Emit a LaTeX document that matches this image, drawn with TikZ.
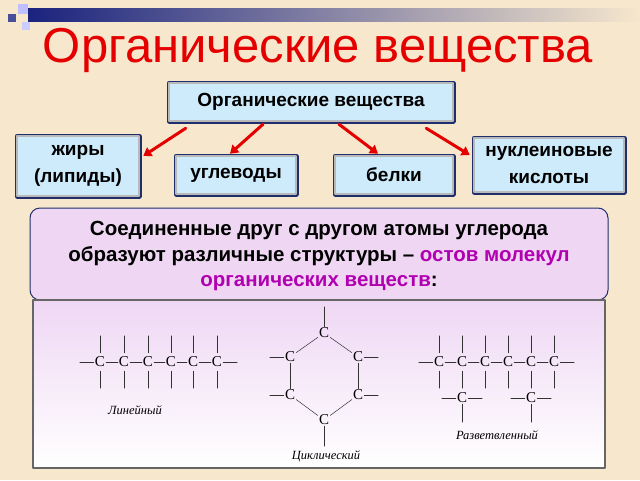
\documentclass[tikz,border=0pt]{standalone}
\usepackage{fontspec}
\setmainfont{Liberation Sans}
\newfontfamily\chemfont{Liberation Serif}
\usetikzlibrary{positioning,calc,arrows.meta,shadings}
\definecolor{bgbeige}{HTML}{F6E7CD}
\definecolor{boxblue}{HTML}{CDEBFA}
\definecolor{boxrim}{HTML}{1F2F6E}
\definecolor{lav}{HTML}{EFD7F4}
\definecolor{magtext}{HTML}{B000B0}
\definecolor{barblue}{HTML}{1A237E}
\begin{document}
\begin{tikzpicture}[x=1pt,y=-1pt, line cap=round, line join=round]
	% ===== fon =====
	\fill[bgbeige] (0,0) rectangle (640,480);
	\useasboundingbox (0,0) rectangle (640,480);
	
	% ===== polosa sverhu =====
	\shade[left color=barblue, right color=bgbeige] (28,8) rectangle (640,21);
	\fill[barblue!80] (8,14) rectangle (16,22);
	\fill[blue!25] (18,4) rectangle (28,14);
	\fill[blue!20] (22,22) rectangle (30,30);
	
	% ===== stili =====
	\tikzset{
		box/.style={draw=gray!55, line width=2.5pt, fill=boxblue, font=\bfseries\fontsize{19}{27}\selectfont,
			align=center, inner sep=4pt,
			preaction={draw=boxrim, line width=5pt}},
		arr/.style={red!90!black, line width=3pt, -{Triangle[length=8pt,width=10pt]}},
		chem/.style={font=\chemfont\fontsize{15}{15}\selectfont, inner sep=1pt},
		bond/.style={black!80, line width=0.5pt},
		lbl/.style={font=\chemfont\itshape\fontsize{12.5}{12.5}\selectfont}
	}
	
	% ===== zagolovok =====
	\node[red!90!black, font=\fontsize{49}{54}\selectfont] (title) at (318,50) {Органические вещества};
	
	% ===== blok s klassami =====
	\node[box, minimum width=284pt, minimum height=38pt] (main) at (311,102) {Органические вещества};
	\node[box, minimum width=122pt, minimum height=60pt] (fat) at (78,166) {жиры\\(липиды)};
	\node[box, minimum width=120pt, minimum height=38pt] (carb) at (236,175) {углеводы};
	\node[box, minimum width=118pt, minimum height=38pt] (prot) at (394,175) {белки};
	\node[box, minimum width=150pt, minimum height=54pt] (nucl) at (549,165) {нуклеиновые\\кислоты};
	
	\draw[arr] ($(main.south west)+(18,6)$) -- ($(fat.east)+(3,-10)$);
	\draw[arr] ($(main.south)+(-48,2)$) -- ($(carb.north)+(-6,-1)$);
	\draw[arr] ($(main.south)+(28,2)$) -- ($(prot.north)+(-16,-1)$);
	\draw[arr] ($(main.south east)+(-28,6)$) -- ($(nucl.west)+(-3,-10)$);
	
	% ===== opisanie =====
	\draw[boxrim, line width=1pt, fill=lav, rounded corners=10pt] (30,208) rectangle (608,300);
	\node[font=\bfseries\fontsize{20.5}{25.5}\selectfont, align=center] (txt) at (319,256)
		{Соединенные друг с другом атомы углерода\\образуют различные структуры – \textcolor{magtext}{остов молекул}\\\textcolor{magtext}{органических веществ}:};
	
	% ===== strukturi =====
	\shade[top color=lav, bottom color=white] (33,300) rectangle (605,468);
	\draw[gray!80!black, line width=1.2pt] (33,300) rectangle (605,468);
	
	% lineinaya
	\foreach \x [count=\i] in {100,124,148,171,193,217}{
		\node[chem] (l\i) at (\x,362) {C};
		\draw[bond] (l\i.north) ++(0,-3) -- ++(0,-17);
		\draw[bond] (l\i.south) ++(0,3) -- ++(0,17);
	}
	\foreach \i [evaluate=\i as \j using int(\i+1)] in {1,...,5}{
		\draw[bond] (l\i) ++(6,0) -- ($(l\j)+(-6,0)$);
	}
	\draw[bond] (l1.west) -- ++(-14,0);
	\draw[bond] (l6.east) -- ++(14,0);
	\node[lbl] (lin) at (135,410) {Линейный};
	
	% ciklicheskaya
	\node[chem] (c1) at (324,333) {C};
	\node[chem] (c2) at (290,357) {C};
	\node[chem] (c3) at (358,357) {C};
	\node[chem] (c4) at (290,395) {C};
	\node[chem] (c5) at (358,395) {C};
	\node[chem] (c6) at (324,420) {C};
	\draw[bond] (c1) -- (c2); \draw[bond] (c1) -- (c3);
	\draw[bond] (c2) -- (c4); \draw[bond] (c3) -- (c5);
	\draw[bond] (c4) -- (c6); \draw[bond] (c5) -- (c6);
	\draw[bond] (c1.north) -- ++(0,-20);
	\draw[bond] (c6.south) -- ++(0,20);
	\draw[bond] (c2.west) -- ++(-14,0); \draw[bond] (c4.west) -- ++(-14,0);
	\draw[bond] (c3.east) -- ++(14,0); \draw[bond] (c5.east) -- ++(14,0);
	\node[lbl] (cyc) at (326,456) {Циклический};
	
	% razvetvlennaya
	\foreach \x [count=\i] in {439,462,485,508,531,554}{
		\node[chem] (b\i) at (\x,362) {C};
		\draw[bond] (b\i.north) ++(0,-3) -- ++(0,-17);
		\draw[bond] (b\i.south) ++(0,3) -- ++(0,17);
	}
	\foreach \i [evaluate=\i as \j using int(\i+1)] in {1,...,5}{
		\draw[bond] (b\i) ++(6,0) -- ($(b\j)+(-6,0)$);
	}
	\draw[bond] (b1.west) -- ++(-14,0);
	\draw[bond] (b6.east) -- ++(14,0);
	\node[chem] (s1) at (462,398) {C};
	\node[chem] (s2) at (531,398) {C};
	\foreach \s in {s1,s2}{
		\draw[bond] (\s.west) -- ++(-14,0);
		\draw[bond] (\s.east) -- ++(14,0);
		\draw[bond] (\s.south) -- ++(0,18);
	}
	\node[lbl] (br) at (497,435) {Разветвленный};
\end{tikzpicture}
\end{document}
